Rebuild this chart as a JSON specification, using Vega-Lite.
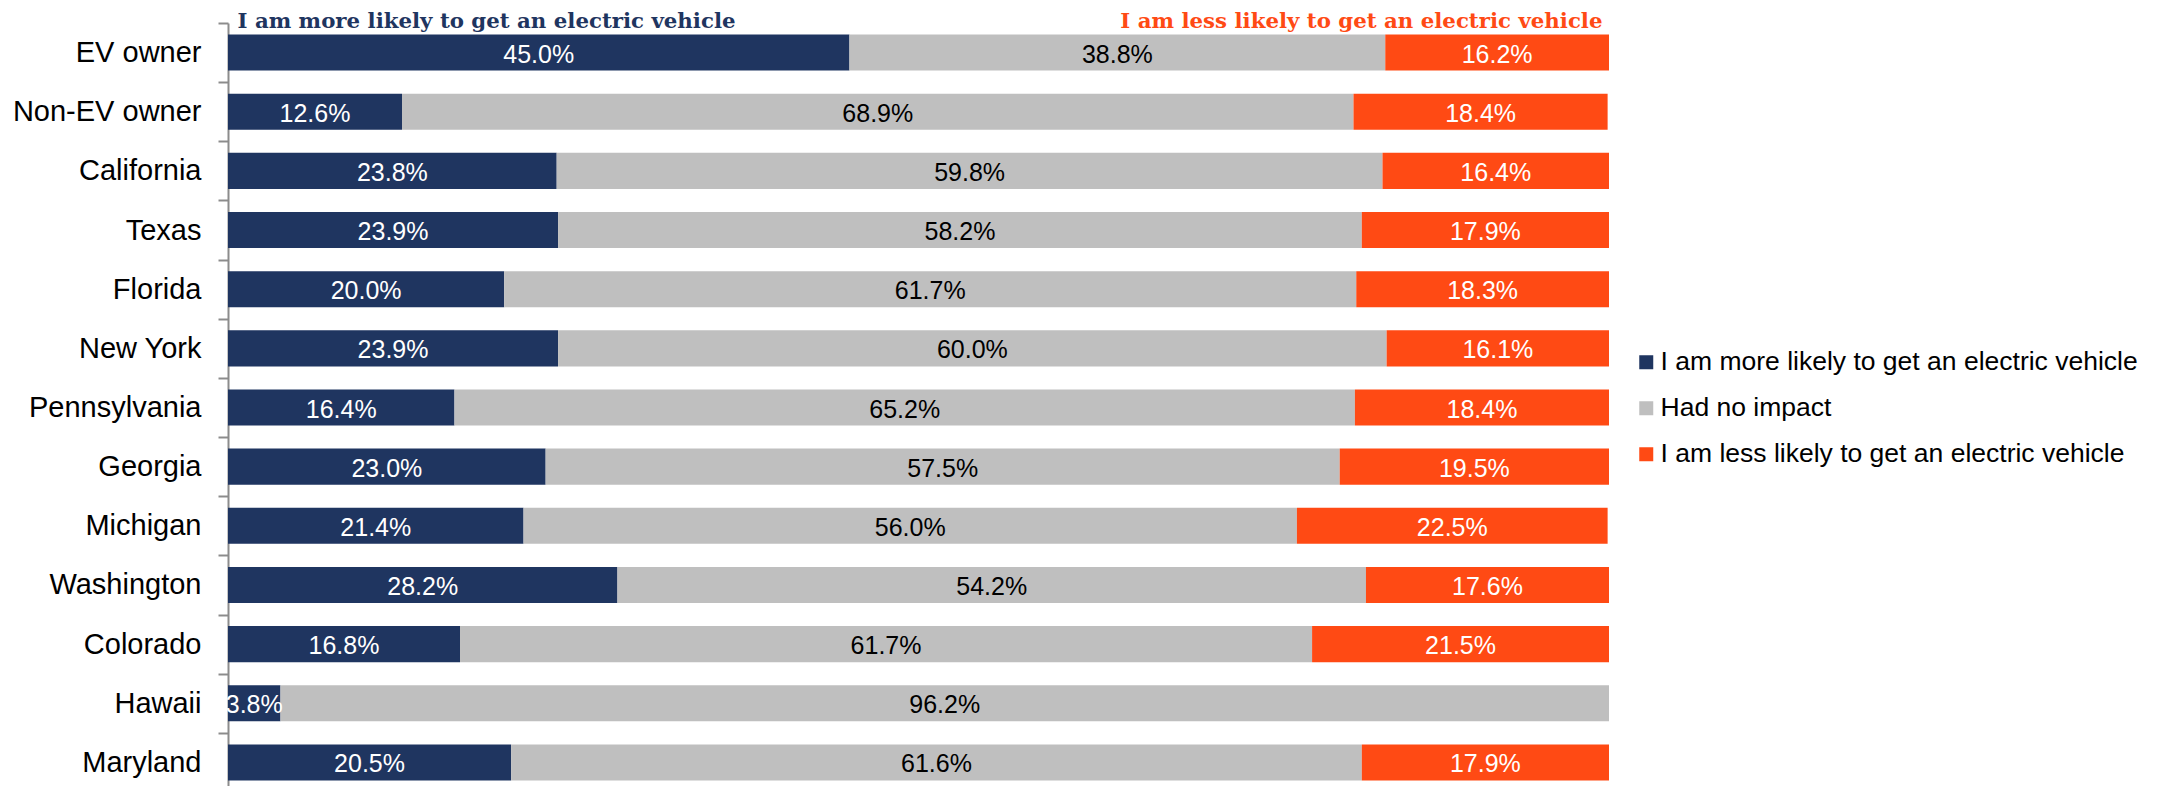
{
  "$schema": "https://vega.github.io/schema/vega-lite/v6.json",
  "autosize": {"type": "none"},
  "padding": {"left": 228, "top": 23, "right": 560, "bottom": 0},
  "width": 1381,
  "height": 769,
  "background": "white",
  "config": {"view": {"stroke": null}},
  "data": {
    "values": [
      {"group": "EV owner", "response": "I am more likely to get an electric vehicle", "ord": 1, "value": 0.450},
      {"group": "EV owner", "response": "Had no impact", "ord": 2, "value": 0.388},
      {"group": "EV owner", "response": "I am less likely to get an electric vehicle", "ord": 3, "value": 0.162},
      {"group": "Non-EV owner", "response": "I am more likely to get an electric vehicle", "ord": 1, "value": 0.126},
      {"group": "Non-EV owner", "response": "Had no impact", "ord": 2, "value": 0.689},
      {"group": "Non-EV owner", "response": "I am less likely to get an electric vehicle", "ord": 3, "value": 0.184},
      {"group": "California", "response": "I am more likely to get an electric vehicle", "ord": 1, "value": 0.238},
      {"group": "California", "response": "Had no impact", "ord": 2, "value": 0.598},
      {"group": "California", "response": "I am less likely to get an electric vehicle", "ord": 3, "value": 0.164},
      {"group": "Texas", "response": "I am more likely to get an electric vehicle", "ord": 1, "value": 0.239},
      {"group": "Texas", "response": "Had no impact", "ord": 2, "value": 0.582},
      {"group": "Texas", "response": "I am less likely to get an electric vehicle", "ord": 3, "value": 0.179},
      {"group": "Florida", "response": "I am more likely to get an electric vehicle", "ord": 1, "value": 0.200},
      {"group": "Florida", "response": "Had no impact", "ord": 2, "value": 0.617},
      {"group": "Florida", "response": "I am less likely to get an electric vehicle", "ord": 3, "value": 0.183},
      {"group": "New York", "response": "I am more likely to get an electric vehicle", "ord": 1, "value": 0.239},
      {"group": "New York", "response": "Had no impact", "ord": 2, "value": 0.600},
      {"group": "New York", "response": "I am less likely to get an electric vehicle", "ord": 3, "value": 0.161},
      {"group": "Pennsylvania", "response": "I am more likely to get an electric vehicle", "ord": 1, "value": 0.164},
      {"group": "Pennsylvania", "response": "Had no impact", "ord": 2, "value": 0.652},
      {"group": "Pennsylvania", "response": "I am less likely to get an electric vehicle", "ord": 3, "value": 0.184},
      {"group": "Georgia", "response": "I am more likely to get an electric vehicle", "ord": 1, "value": 0.230},
      {"group": "Georgia", "response": "Had no impact", "ord": 2, "value": 0.575},
      {"group": "Georgia", "response": "I am less likely to get an electric vehicle", "ord": 3, "value": 0.195},
      {"group": "Michigan", "response": "I am more likely to get an electric vehicle", "ord": 1, "value": 0.214},
      {"group": "Michigan", "response": "Had no impact", "ord": 2, "value": 0.560},
      {"group": "Michigan", "response": "I am less likely to get an electric vehicle", "ord": 3, "value": 0.225},
      {"group": "Washington", "response": "I am more likely to get an electric vehicle", "ord": 1, "value": 0.282},
      {"group": "Washington", "response": "Had no impact", "ord": 2, "value": 0.542},
      {"group": "Washington", "response": "I am less likely to get an electric vehicle", "ord": 3, "value": 0.176},
      {"group": "Colorado", "response": "I am more likely to get an electric vehicle", "ord": 1, "value": 0.168},
      {"group": "Colorado", "response": "Had no impact", "ord": 2, "value": 0.617},
      {"group": "Colorado", "response": "I am less likely to get an electric vehicle", "ord": 3, "value": 0.215},
      {"group": "Hawaii", "response": "I am more likely to get an electric vehicle", "ord": 1, "value": 0.038},
      {"group": "Hawaii", "response": "Had no impact", "ord": 2, "value": 0.962},
      {"group": "Maryland", "response": "I am more likely to get an electric vehicle", "ord": 1, "value": 0.205},
      {"group": "Maryland", "response": "Had no impact", "ord": 2, "value": 0.616},
      {"group": "Maryland", "response": "I am less likely to get an electric vehicle", "ord": 3, "value": 0.179}
    ]
  },
  "encoding": {
    "y": {
      "field": "group",
      "type": "nominal",
      "sort": ["EV owner", "Non-EV owner", "California", "Texas", "Florida", "New York", "Pennsylvania", "Georgia", "Michigan", "Washington", "Colorado", "Hawaii", "Maryland"],
      "scale": {"paddingInner": 0, "paddingOuter": 0},
      "axis": {
        "title": null,
        "tickBand": "extent",
        "tickSize": 10,
        "tickWidth": 2,
        "tickColor": "#8c8c8c",
        "domainColor": "#8c8c8c",
        "domainWidth": 2,
        "labelFont": "Liberation Sans",
        "labelFontSize": 29,
        "labelColor": "#000000",
        "labelPadding": 17,
        "labelLimit": 300
      }
    },
    "x": {
      "field": "value",
      "type": "quantitative",
      "stack": "zero",
      "scale": {"domain": [0, 1], "nice": false, "zero": true},
      "axis": {
        "orient": "top",
        "title": null,
        "values": [0, 1],
        "domain": false,
        "ticks": false,
        "grid": false,
        "labelExpr": "datum.value == 0 ? 'I am more likely to get an electric vehicle' : 'I am less likely to get an electric vehicle'",
        "labelAlign": {"condition": {"test": "datum.value == 0", "value": "left"}, "value": "right"},
        "labelColor": {"condition": {"test": "datum.value == 0", "value": "#1f3560"}, "value": "#ff4a14"},
        "labelOffset": {"condition": {"test": "datum.value == 0", "value": 9}, "value": -7},
        "labelFont": "DejaVu Serif",
        "labelFontWeight": "bold",
        "labelFontSize": 21.3,
        "labelBaseline": "alphabetic",
        "labelPadding": -4,
        "labelBound": false,
        "labelFlush": false,
        "labelOverlap": false,
        "labelLimit": 800
      }
    },
    "order": {"field": "ord", "type": "quantitative"}
  },
  "layer": [
    {
      "mark": {"type": "bar", "height": {"band": 0.61}},
      "encoding": {
        "color": {
          "field": "response",
          "type": "nominal",
          "scale": {
            "domain": ["I am more likely to get an electric vehicle", "Had no impact", "I am less likely to get an electric vehicle"],
            "range": ["#1f3560", "#bfbfbf", "#ff4a14"]
          },
          "legend": {
            "title": null,
            "orient": "none",
            "legendX": 1405,
            "legendY": 326,
            "padding": 0,
            "symbolType": "square",
            "symbolSize": 196,
            "symbolStrokeWidth": 0,
            "labelFont": "Liberation Sans",
            "labelFontSize": 26.5,
            "labelColor": "#000000",
            "labelOffset": 1,
            "rowPadding": 19,
            "labelLimit": 600
          }
        }
      }
    },
    {
      "mark": {"type": "text", "font": "Liberation Sans", "fontSize": 25, "letterSpacing": 1.2, "baseline": "middle", "dy": 2},
      "encoding": {
        "x": {"field": "value", "type": "quantitative", "stack": "zero", "bandPosition": 0.5},
        "text": {"field": "value", "type": "quantitative", "format": ".1%"},
        "color": {"condition": {"test": "datum.response === 'Had no impact'", "value": "#000000"}, "value": "#ffffff"}
      }
    }
  ]
}
